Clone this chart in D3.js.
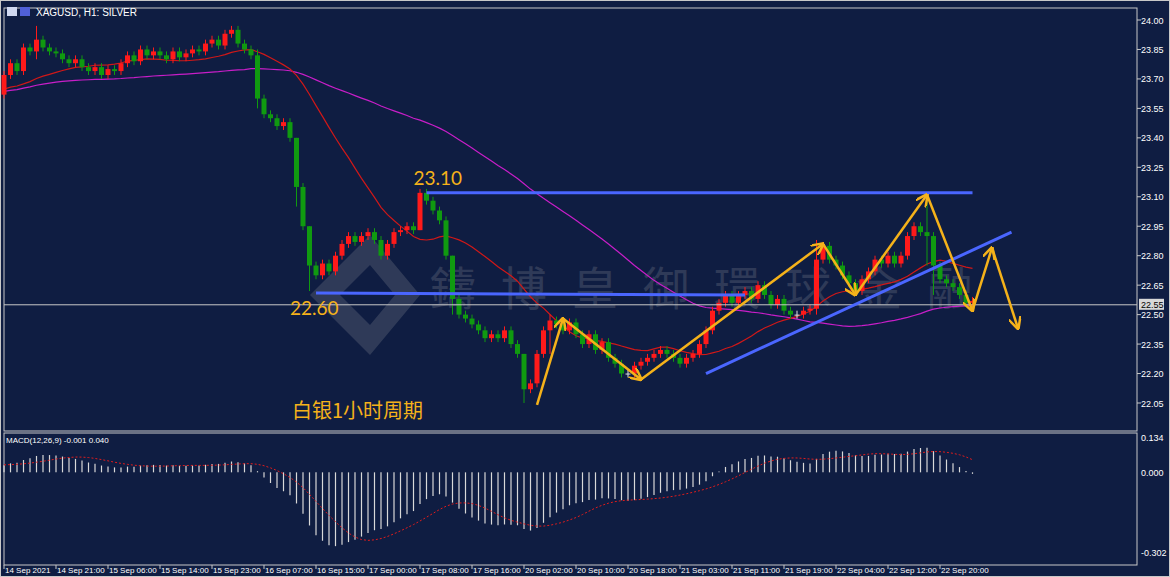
<!DOCTYPE html>
<html>
<head>
<meta charset="utf-8">
<script src="https://cdn.jsdelivr.net/npm/d3@7"></script>
<style>
body { margin: 0; background: #0f1d42; }
svg { display: block; font-family: "Liberation Sans", Arial, sans-serif; }
</style>
</head>
<body>
<script>
// closing prices, one per hourly bar
var closes = [23.72,23.78,23.74,23.86,23.84,23.9,23.86,23.84,23.83,23.8,
  23.78,23.8,23.76,23.74,23.76,23.72,23.75,23.74,23.78,23.82,
  23.79,23.85,23.82,23.84,23.82,23.8,23.84,23.81,23.83,23.85,
  23.84,23.88,23.9,23.87,23.93,23.95,23.88,23.85,23.82,23.6,
  23.52,23.5,23.46,23.48,23.4,23.15,22.95,22.75,22.7,22.76,
  22.72,22.8,22.86,22.9,22.87,22.9,22.92,22.88,22.8,22.86,
  22.92,22.93,22.95,22.93,23.12,23.08,23.03,22.98,22.8,22.58,
  22.5,22.48,22.45,22.42,22.38,22.4,22.38,22.42,22.35,22.3,
  22.12,22.15,22.3,22.42,22.47,22.45,22.42,22.46,22.4,22.35,
  22.4,22.32,22.36,22.28,22.25,22.2,22.2,22.24,22.26,22.28,
  22.3,22.32,22.3,22.28,22.25,22.28,22.3,22.35,22.42,22.52,
  22.56,22.6,22.56,22.6,22.62,22.58,22.65,22.6,22.55,22.58,
  22.52,22.5,22.5,22.52,22.53,22.78,22.85,22.78,22.75,22.7,
  22.66,22.62,22.68,22.72,22.78,22.76,22.8,22.76,22.8,22.9,
  22.95,22.92,22.9,22.75,22.68,22.66,22.64,22.6,22.56,22.57];
var firstOpen = 23.62;
// closes before the visible window (feed the averages)
var priorCloses = [23.55,23.58,23.6,23.62,23.6,23.58,23.62,23.65,23.6,23.58,23.62,23.66,23.64,23.6,23.62,
  23.65,23.7,23.68,23.66,23.7,23.72,23.68,23.66,23.62];
// long wicks: bar index, high, low
var spikes = [[5,23.97,23.8],[39,23.85,23.55],[45,23.4,23.05],[47,22.95,22.62],
  [64,23.14,22.93],[69,22.8,22.5],[80,22.3,22.05],[84,22.5,22.3],[125,22.88,22.5],
  [142,23.12,22.75],[143,22.92,22.6]];
var priceTicks = [24.00,23.85,23.70,23.55,23.40,23.25,23.10,22.95,22.80,22.65,22.50,22.35,22.20,22.05];
var macdTicks = [0.134,0.000,-0.302];
var timeLabels = ["14 Sep 2021","14 Sep 21:00","15 Sep 06:00","15 Sep 14:00","15 Sep 23:00",
  "16 Sep 07:00","16 Sep 15:00","17 Sep 00:00","17 Sep 08:00","17 Sep 16:00","20 Sep 02:00",
  "20 Sep 10:00","20 Sep 18:00","21 Sep 03:00","21 Sep 11:00","21 Sep 19:00","22 Sep 04:00",
  "22 Sep 12:00","22 Sep 20:00"];
var lastPrice = 22.55;
// analyst drawings in (bar, price)
var hiLevel = [[65,23.12],[149,23.12]];
var loLevel = [[48,22.61],[114,22.60]];
var trend = [[108,22.20],[155,22.92]];
var zigzag = [[82,22.04],[86,22.48],[98,22.17],[126,22.86],[131,22.60],[142,23.11],[149,22.52],[152,22.84],[156,22.43]];

drawChart();

function drawChart() {
  var W = 1170, H = 577;
  var svg = d3.select("body").append("svg").attr("width", W).attr("height", H);
  svg.append("rect").attr("width", W).attr("height", H).attr("fill", "#0f1d42");
  svg.append("rect").attr("x", 0.5).attr("y", 0.5).attr("width", W - 1).attr("height", H - 1)
    .attr("fill", "none").attr("stroke", "#c8c8c8");

  var left = 4, right = 1137, topY = 8, mid = 431, mtop = 433, bottom = 565;
  svg.append("rect").attr("x", left).attr("y", topY).attr("width", right - left).attr("height", mid - topY)
    .attr("fill", "none").attr("stroke", "#c8c8c8");
  svg.append("rect").attr("x", left).attr("y", mtop).attr("width", right - left).attr("height", bottom - mtop)
    .attr("fill", "none").attr("stroke", "#c8c8c8");

  var x = d3.scaleLinear().domain([0, 1]).range([4, 10.5]);
  var y = d3.scaleLinear().domain([24.0, 22.05]).range([20, 403]);
  var ym = d3.scaleLinear().domain([0.134, -0.302]).range([437, 552]);

  // watermark
  var wm = svg.append("g").attr("opacity", 0.2);
  wm.append("path").attr("d", "M310,295 L370,235 L420,295 L370,355 Z M340,295 L370,265 L395,295 L370,325 Z")
    .attr("fill", "#b0b0b0").attr("fill-rule", "evenodd");
  wm.append("text").attr("x", 430).attr("y", 305).text("鑄博皇御環球金融")
    .attr("font-family", "Noto Sans CJK TC").attr("font-size", 46).attr("letter-spacing", 25)
    .attr("fill", "#b0b0b0");

  // moving averages over prior + visible bars
  var all = priorCloses.concat(closes), off = priorCloses.length;
  function sma(arr, n) {
    return arr.map(function (d, i) { return d3.mean(arr.slice(Math.max(0, i - n + 1), i + 1)); });
  }
  function ema(arr, n) {
    var k = 2 / (n + 1), out = [], prev = arr[0];
    arr.forEach(function (d) { prev = prev + k * (d - prev); out.push(prev); });
    return out;
  }
  var ma1 = sma(all, 20).slice(off), ma2 = sma(all, 62).slice(off);
  var line = d3.line().x(function (d, i) { return x(i); }).y(function (d) { return y(d); });
  svg.append("path").attr("d", line(ma2)).attr("fill", "none").attr("stroke", "#c81ec8").attr("stroke-width", 1.2);
  svg.append("path").attr("d", line(ma1)).attr("fill", "none").attr("stroke", "#d01818").attr("stroke-width", 1.2);

  // candles
  var spikeMap = {};
  spikes.forEach(function (s) { spikeMap[s[0]] = s; });
  var candles = closes.map(function (c, i) {
    var o = i === 0 ? firstOpen : closes[i - 1];
    var hi = Math.max(o, c) + 0.02, lo = Math.min(o, c) - 0.02;
    if (spikeMap[i]) { hi = spikeMap[i][1]; lo = spikeMap[i][2]; }
    return {i: i, o: o, c: c, h: hi, l: lo};
  });
  var cg = svg.append("g");
  candles.forEach(function (d) {
    var col = d.c > d.o ? "#ff1a1a" : (d.c < d.o ? "#109a10" : "#e0e0e0");
    cg.append("line").attr("x1", x(d.i)).attr("x2", x(d.i)).attr("y1", y(d.h)).attr("y2", y(d.l))
      .attr("stroke", col);
    cg.append("rect").attr("x", x(d.i) - 2.5).attr("width", 5)
      .attr("y", y(Math.max(d.o, d.c))).attr("height", Math.max(1, Math.abs(y(d.o) - y(d.c))))
      .attr("fill", col);
  });

  // current price line
  svg.append("line").attr("x1", left).attr("x2", right).attr("y1", y(lastPrice)).attr("y2", y(lastPrice))
    .attr("stroke", "#c8c8c8");

  // blue lines
  var blue = d3.line().x(function (d) { return x(d[0]); }).y(function (d) { return y(d[1]); });
  [hiLevel, loLevel, trend].forEach(function (l) {
    svg.append("path").attr("d", blue(l)).attr("stroke", "#4a66ff").attr("stroke-width", 3).attr("fill", "none");
  });

  // orange arrows
  var defs = svg.append("defs");
  defs.append("marker").attr("id", "arr").attr("viewBox", "0 0 10 10").attr("refX", 9).attr("refY", 5)
    .attr("markerWidth", 5).attr("markerHeight", 5).attr("orient", "auto")
    .append("path").attr("d", "M0,0 L10,5 L0,10").attr("fill", "none").attr("stroke", "#f5b21a").attr("stroke-width", 2);
  for (var k = 0; k < zigzag.length - 1; k++) {
    svg.append("line").attr("x1", x(zigzag[k][0])).attr("y1", y(zigzag[k][1]))
      .attr("x2", x(zigzag[k + 1][0])).attr("y2", y(zigzag[k + 1][1]))
      .attr("stroke", "#f5b21a").attr("stroke-width", 2.5).attr("marker-end", "url(#arr)");
  }

  // annotation texts
  svg.append("text").attr("x", x(63)).attr("y", y(23.16)).text("23.10")
    .attr("fill", "#f5b21a").attr("font-size", 19).attr("font-family", "Lato, sans-serif");
  svg.append("text").attr("x", x(44)).attr("y", y(22.50)).text("22.60")
    .attr("fill", "#f5b21a").attr("font-size", 19).attr("font-family", "Lato, sans-serif");
  svg.append("text").attr("x", 292).attr("y", 418).text("白银1小时周期")
    .attr("fill", "#f5b21a").attr("font-size", 20).attr("font-family", "Noto Sans CJK SC");

  // header
  svg.append("rect").attr("x", 7).attr("y", 7).attr("width", 10).attr("height", 9).attr("fill", "#d0d8f0");
  svg.append("rect").attr("x", 20).attr("y", 7).attr("width", 10).attr("height", 9).attr("fill", "#5060d8");
  svg.append("text").attr("x", 36).attr("y", 16).text("XAGUSD, H1:  SILVER")
    .attr("fill", "#ffffff").attr("font-size", 10);

  // price axis
  var pa = svg.append("g");
  priceTicks.forEach(function (p) {
    pa.append("line").attr("x1", right).attr("x2", right + 4).attr("y1", y(p)).attr("y2", y(p)).attr("stroke", "#c8c8c8");
    pa.append("text").attr("x", right + 4).attr("y", y(p) + 3.5).text(p.toFixed(2))
      .attr("fill", "#ffffff").attr("font-size", 9);
  });
  pa.append("rect").attr("x", right + 2).attr("y", y(lastPrice) - 6).attr("width", 25).attr("height", 11).attr("fill", "#d8d8d8");
  pa.append("text").attr("x", right + 4).attr("y", y(lastPrice) + 3.5).text(lastPrice.toFixed(2))
    .attr("fill", "#000").attr("font-size", 9);

  // MACD
  var e12 = ema(all, 12), e26 = ema(all, 26);
  var macdAll = e12.map(function (d, i) { return d - e26[i]; });
  var macd = macdAll.slice(off), signal = sma(macdAll, 9).slice(off);
  var mg = svg.append("g");
  macd.forEach(function (v, i) {
    mg.append("line").attr("x1", x(i)).attr("x2", x(i)).attr("y1", ym(0)).attr("y2", ym(v))
      .attr("stroke", "#d8d8d8").attr("stroke-width", 1.2);
  });
  mg.append("path").attr("d", d3.line().x(function (d, i) { return x(i); }).y(function (d) { return ym(d); })(signal))
    .attr("fill", "none").attr("stroke", "#e01c1c").attr("stroke-dasharray", "2,2");
  svg.append("text").attr("x", 6).attr("y", 443).text("MACD(12,26,9) -0.001 0.040")
    .attr("fill", "#ffffff").attr("font-size", 8);
  macdTicks.forEach(function (m) {
    svg.append("text").attr("x", right + 4).attr("y", ym(m) + 3.5).text(m.toFixed(3))
      .attr("fill", "#ffffff").attr("font-size", 9);
  });

  // time axis
  timeLabels.forEach(function (t, k) {
    var xi = x(k * 8);
    svg.append("line").attr("x1", xi).attr("x2", xi).attr("y1", bottom).attr("y2", bottom + 4).attr("stroke", "#c8c8c8");
    svg.append("text").attr("x", xi + 1).attr("y", 573).text(t).attr("fill", "#ffffff").attr("font-size", 8);
  });
}
</script>
</body>
</html>
